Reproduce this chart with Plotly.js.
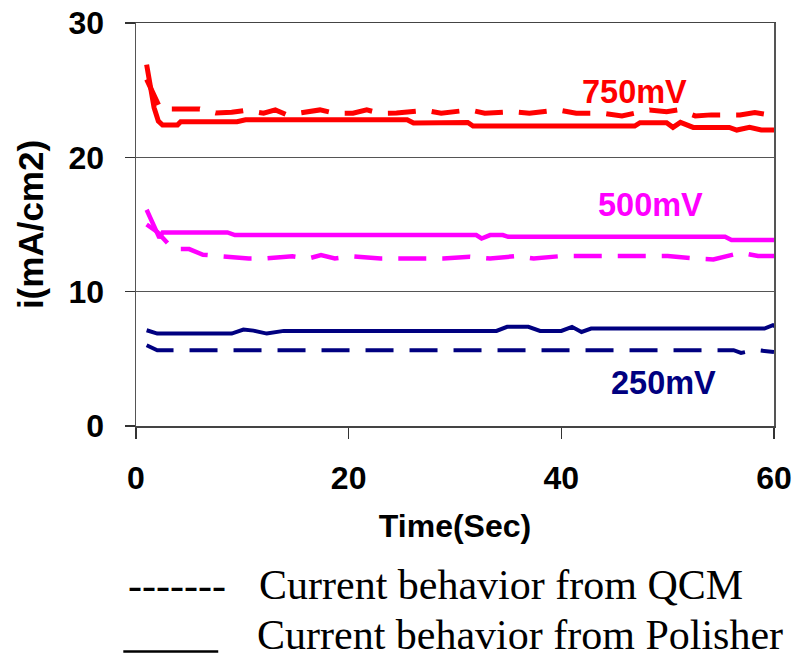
<!DOCTYPE html>
<html>
<head>
<meta charset="utf-8">
<script src="https://cdn.plot.ly/plotly-3.0.1.min.js"></script>
<style>html,body{margin:0;padding:0;background:#fff;}#chart{width:801px;height:663px;}</style>
</head>
<body>
<div id="chart"></div>
<script>
// ---- data ----
const t750Polisher = [1, 1.7, 2.1, 2.5, 3.9, 4.2, 9.5, 10.3, 25.5, 26.1, 31.2, 31.7, 46.9, 47.4, 49.9, 50.5, 51.2, 52.4, 55.8, 56.5, 57.7, 58.8, 60];
const i750Polisher = [26.9, 23.7, 22.7, 22.4, 22.4, 22.65, 22.65, 22.8, 22.8, 22.55, 22.6, 22.33, 22.33, 22.58, 22.58, 22.23, 22.6, 22.23, 22.23, 22.03, 22.23, 22.03, 22.03];

const t750QCM = [1, 2.3, 6.0, 7.5, 9.0, 10.3, 12.0, 13.1, 14.2, 16.2, 17.3, 18.7, 20.4, 21.7, 23.0, 24.5, 27.2, 28.7, 31.4, 32.8, 35.3, 37.0, 39.7, 41.4, 43.9, 45.7, 48.3, 49.9, 51.0, 52.6, 54.1, 56.8, 58.2, 60];
const i750QCM = [25.8, 23.6, 23.6, 23.3, 23.35, 23.5, 23.28, 23.53, 23.16, 23.4, 23.53, 23.28, 23.28, 23.53, 23.28, 23.3, 23.5, 23.28, 23.53, 23.28, 23.4, 23.28, 23.53, 23.28, 23.28, 23.08, 23.53, 23.4, 23.53, 23.08, 23.16, 23.16, 23.33, 23.1];

const t500Polisher = [1, 2.2, 2.5, 8.6, 9.3, 32.0, 32.5, 33.3, 34.5, 35.0, 55.4, 56.0, 60];
const i500Polisher = [16.1, 14.0, 14.41, 14.41, 14.21, 14.21, 13.96, 14.21, 14.21, 14.08, 14.08, 13.84, 13.84];

const t500QCM = [1, 2, 3.5, 5.0, 6.3, 8.0, 10.6, 12.2, 14.7, 16.2, 17.4, 18.7, 20.4, 23.0, 27.2, 28.9, 31.4, 33.3, 35.8, 37.4, 40.0, 50.0, 52.7, 54.3, 56.9, 58.5, 60];
const i500QCM = [15.0, 14.45, 13.17, 13.17, 12.75, 12.63, 12.47, 12.47, 12.63, 12.47, 12.72, 12.47, 12.63, 12.47, 12.47, 12.47, 12.6, 12.47, 12.65, 12.47, 12.65, 12.65, 12.47, 12.4, 12.9, 12.65, 12.65];

const t250Polisher = [1, 2.0, 9.0, 10.1, 11.05, 12.3, 13.9, 33.9, 34.9, 36.9, 38.0, 40.0, 41.0, 41.9, 42.8, 59.1, 59.9, 60.5];
const i250Polisher = [7.13, 6.88, 6.88, 7.18, 7.1, 6.88, 7.08, 7.08, 7.38, 7.38, 7.08, 7.08, 7.38, 7.0, 7.25, 7.25, 7.5, 7.25];

const t250QCM = [1, 2.0, 56.2, 56.9, 58.3, 60];
const i250QCM = [6.01, 5.64, 5.64, 5.44, 5.66, 5.51];

const xTicks = [0, 20, 40, 60];
const yTicks = [0, 10, 20, 30];
const seriesLabels = ['750mV', '500mV', '250mV'];
const labelX = [46.9, 48.4, 49.6];
const labelY = [24.9, 16.45, 3.18];
const legendTexts = ['Current behavior from QCM', 'Current behavior from Polisher'];

// ---- styles ----
const colors = ['#FF0000', '#FF00FF', '#000080'];
const widths = [5, 4.5, 4];
const dashPattern = '28px,16px';

const series = [
  {x: t750QCM, y: i750QCM, c: 0, dash: true, name: '750mV QCM'},
  {x: t750Polisher, y: i750Polisher, c: 0, dash: false, name: '750mV Polisher'},
  {x: t500QCM, y: i500QCM, c: 1, dash: true, name: '500mV QCM'},
  {x: t500Polisher, y: i500Polisher, c: 1, dash: false, name: '500mV Polisher'},
  {x: t250QCM, y: i250QCM, c: 2, dash: true, name: '250mV QCM'},
  {x: t250Polisher, y: i250Polisher, c: 2, dash: false, name: '250mV Polisher'}
];

const traces = series.map(s => ({
  type: 'scatter', mode: 'lines', x: s.x, y: s.y, name: s.name,
  line: {color: colors[s.c], width: widths[s.c], dash: s.dash ? dashPattern : 'solid', shape: 'linear'},
  hoverinfo: 'skip'
}));

const sansBold = {family: 'Liberation Sans, Arial, sans-serif', size: 32, color: '#000', weight: 'bold'};
const serif = {family: 'Liberation Serif, Times New Roman, serif', size: 42, color: '#000'};

const annotations = seriesLabels.map((s, k) => ({
  x: labelX[k], y: labelY[k], xref: 'x', yref: 'y', text: s, showarrow: false,
  xanchor: 'center', yanchor: 'middle',
  font: {family: 'Liberation Sans, Arial, sans-serif', size: 32.5, color: colors[k], weight: 'bold'}
}));

annotations.push(
  {x: -0.0152, y: -0.3956, xref: 'paper', yref: 'paper', text: '-------', showarrow: false,
   xanchor: 'left', yanchor: 'middle', font: serif},
  {x: 0.19, y: -0.3956, xref: 'paper', yref: 'paper', text: legendTexts[0], showarrow: false,
   xanchor: 'left', yanchor: 'middle', font: serif},
  {x: 0.187, y: -0.5197, xref: 'paper', yref: 'paper', text: legendTexts[1], showarrow: false,
   xanchor: 'left', yanchor: 'middle', font: serif}
);

const layout = {
  width: 801, height: 663,
  margin: {l: 135.7, r: 26.7, t: 23, b: 237.3, pad: 0},
  paper_bgcolor: '#fff', plot_bgcolor: '#fff',
  showlegend: false,
  xaxis: {
    range: [0, 60], tickvals: xTicks, ticktext: xTicks.map(String),
    ticks: 'outside', ticklen: 11, tickwidth: 1.5, tickcolor: '#333',
    showline: true, linecolor: '#444', linewidth: 1.5, mirror: true,
    showgrid: false, zeroline: false,
    tickfont: sansBold, ticklabelstandoff: 12,
    title: {text: 'Time(Sec)', font: {family: 'Liberation Sans, Arial, sans-serif', size: 32, color: '#000', weight: 'bold'}, standoff: 19}
  },
  yaxis: {
    range: [0, 30], tickvals: yTicks, ticktext: yTicks.map(String),
    ticks: 'outside', ticklen: 10, tickwidth: 1.5, tickcolor: '#333',
    showline: true, linecolor: '#555', linewidth: 1.5, mirror: true,
    showgrid: true, gridcolor: '#555', gridwidth: 1.2, zeroline: false,
    tickfont: sansBold, ticklabelstandoff: 14,
    title: {text: 'i(mA/cm2)', font: {family: 'Liberation Sans, Arial, sans-serif', size: 35, color: '#000', weight: 'bold'}, standoff: 14}
  },
  annotations: annotations,
  shapes: [
    {type: 'line', xref: 'paper', yref: 'paper', x0: -0.0199, x1: 0.1289, y0: -0.5595, y1: -0.5595,
     line: {color: '#000', width: 2.5}}
  ]
};

Plotly.newPlot('chart', traces, layout, {staticPlot: true, displayModeBar: false});
</script>
</body>
</html>
